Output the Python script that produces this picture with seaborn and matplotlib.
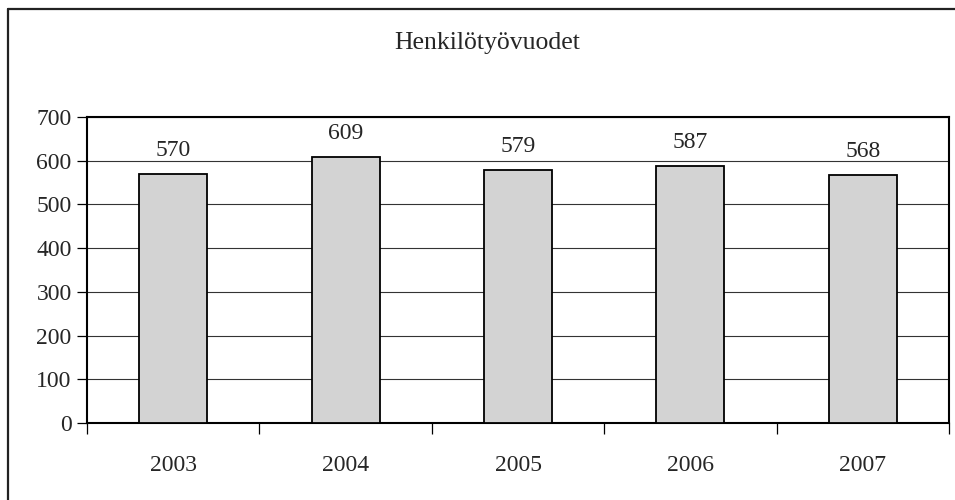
import matplotlib
matplotlib.use('Agg')
import matplotlib.pyplot as plt
import seaborn as sns
import pandas as pd
import numpy as np

# data
years = ['2003', '2004', '2005', '2006', '2007']
values = [570, 609, 579, 587, 568]
yticks = [0, 100, 200, 300, 400, 500, 600, 700]

df = pd.DataFrame({'vuosi': years, 'arvo': values})

sns.set_style('white')
plt.rcParams['font.family'] = ['Liberation Serif', 'DejaVu Serif']

fig = plt.figure(figsize=(9.55, 5), dpi=100)
ax = fig.add_axes([87/955, 1-423/500, (949-87)/955, (423-117)/500])

sns.barplot(data=df, x='vuosi', y='arvo', color='#d3d3d3', edgecolor='black',
            linewidth=1.3, width=0.395, saturation=1, ax=ax, zorder=3)

ax.set_ylim(0, 700)
ax.set_xlim(-0.5, 4.5)
ax.set_yticks(yticks)
ax.set_yticklabels([str(t) for t in yticks], fontsize=17)
ax.grid(axis='y', color='#333333', linewidth=0.8, zorder=0)
ax.set_axisbelow(True)

# ticks between categories, labels centred
ax.set_xticks(range(len(years)))
ax.set_xticklabels(years, fontsize=17)
ax.set_xticks(np.arange(-0.5, len(years), 1), minor=True)
ax.tick_params(axis='x', which='major', bottom=True, length=0, pad=23)
ax.tick_params(axis='x', which='minor', bottom=True, length=8, width=0.9, direction='out', color='black')
ax.tick_params(axis='y', length=7, width=0.9, direction='out', color='black', pad=4, left=True)

for s in ax.spines.values():
    s.set_color('black')
    s.set_linewidth(1.5)

ax.set_xlabel('')
ax.set_ylabel('')

for i, v in enumerate(values):
    ax.annotate(str(v), (i, v), xytext=(0, 9.5), textcoords='offset points',
                ha='center', va='bottom', fontsize=17)

fig.text(487/955, 1-43/500, 'Henkilötyövuodet', ha='center', va='center', fontsize=18.5)

# outer chart frame (right and bottom run past the picture edge)
fig.add_artist(plt.Line2D([7.5/955, 7.5/955], [0, 1-8.5/500], color='#222222', linewidth=1.6, transform=fig.transFigure))
fig.add_artist(plt.Line2D([7.5/955, 1], [1-8.5/500, 1-8.5/500], color='#222222', linewidth=1.6, transform=fig.transFigure))

fig.savefig('out.png', dpi=100)
